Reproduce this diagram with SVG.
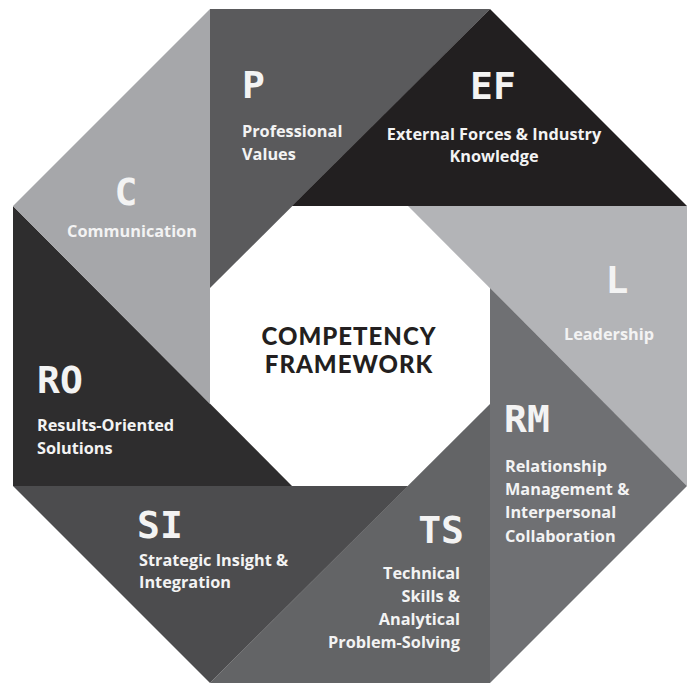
<svg xmlns="http://www.w3.org/2000/svg" width="691" height="683" viewBox="0 0 691 683">
  <style>
    .big { font-family: "DejaVu Sans Mono", "Liberation Mono", monospace; font-weight: bold; font-size: 38px; fill: #f3f3f3; }
    .lbl { font-family: "Open Sans", "Noto Sans", sans-serif; font-weight: 700; font-size: 16.3px; fill: #f3f3f3; }
    .title { font-family: Lato, "Noto Sans", sans-serif; font-weight: 900; font-size: 24px; fill: #231f20; letter-spacing: 1px; text-anchor: middle; }
    .mid { text-anchor: middle; }
    .end { text-anchor: end; }
  </style>
  <rect width="691" height="683" fill="#ffffff"/>
  <g id="connectors"></g>
  <g id="P">
    <polygon points="210,9 490,9 210,288" fill="#5a5a5c"/>
    <text class="big" x="242" y="98">P</text>
    <text class="lbl" x="242" y="137">Professional</text>
    <text class="lbl" x="242" y="160">Values</text>
  </g>
  <g id="EF">
    <polygon points="490,9 687,206 292,206" fill="#221f20"/>
    <text class="big mid" x="493" y="99">EF</text>
    <text class="lbl mid" x="494" y="140">External Forces &amp; Industry</text>
    <text class="lbl mid" x="494" y="162">Knowledge</text>
  </g>
  <g id="L">
    <polygon points="408,206 687,206 687,486" fill="#b3b4b7"/>
    <text class="big mid" x="617" y="293">L</text>
    <text class="lbl mid" x="609" y="340">Leadership</text>
  </g>
  <g id="RM">
    <polygon points="490,288 687,486 490,683" fill="#6f7073"/>
    <text class="big" x="504" y="432">RM</text>
    <text class="lbl" x="505" y="472">Relationship</text>
    <text class="lbl" x="505" y="495">Management &amp;</text>
    <text class="lbl" x="505" y="518">Interpersonal</text>
    <text class="lbl" x="505" y="542">Collaboration</text>
  </g>
  <g id="TS">
    <polygon points="490,404 490,683 210,683" fill="#636466"/>
    <text class="big end" x="464" y="543">TS</text>
    <text class="lbl end" x="460" y="579">Technical</text>
    <text class="lbl end" x="460" y="602">Skills &amp;</text>
    <text class="lbl end" x="460" y="625">Analytical</text>
    <text class="lbl end" x="460" y="648">Problem-Solving</text>
  </g>
  <g id="SI">
    <polygon points="408,486 210,683 13,486" fill="#4c4c4e"/>
    <text class="big" x="137" y="538">SI</text>
    <text class="lbl" x="139" y="566">Strategic Insight &amp;</text>
    <text class="lbl" x="139" y="588">Integration</text>
  </g>
  <g id="RO">
    <polygon points="292,486 13,486 13,206" fill="#2e2d2e"/>
    <text class="big" x="37" y="393">RO</text>
    <text class="lbl" x="37" y="431">Results-Oriented</text>
    <text class="lbl" x="37" y="454">Solutions</text>
  </g>
  <g id="C">
    <polygon points="210,404 13,206 210,9" fill="#a6a7aa"/>
    <text class="big mid" x="126" y="205">C</text>
    <text class="lbl mid" x="132" y="237">Communication</text>
  </g>
  <g id="center">
    <text class="title" x="349" y="345">COMPETENCY</text>
    <text class="title" x="349" y="373">FRAMEWORK</text>
  </g>
</svg>
